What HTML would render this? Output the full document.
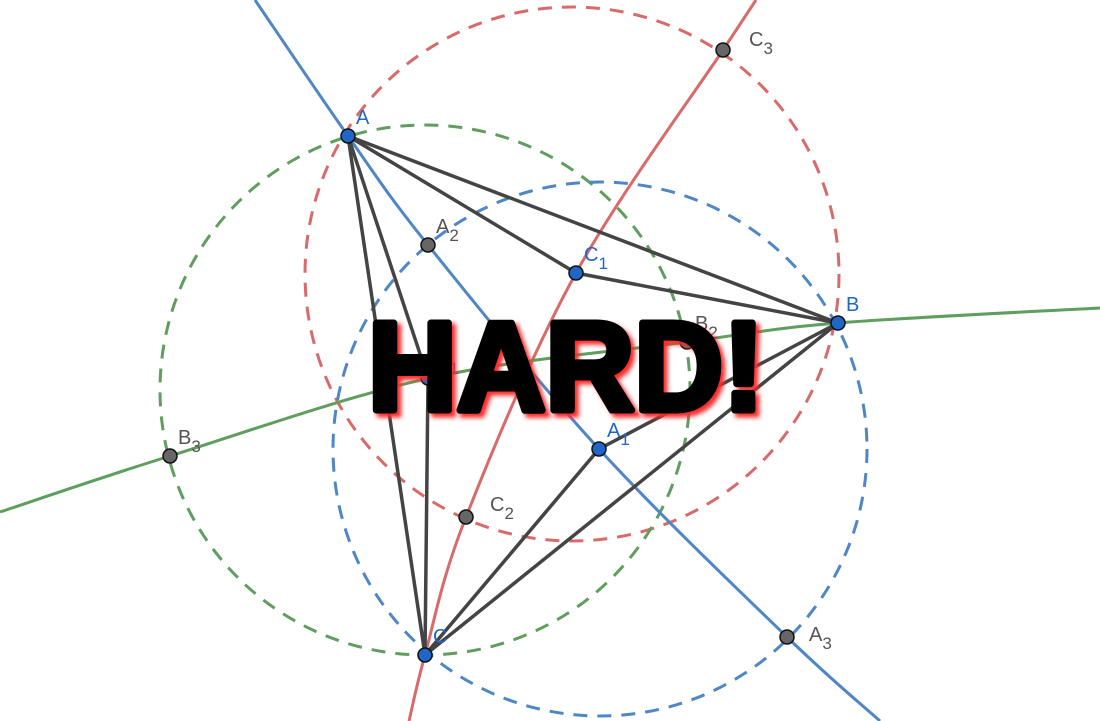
<!DOCTYPE html>
<html><head><meta charset="utf-8"><style>
html,body{margin:0;padding:0;background:#fff;width:1100px;height:721px;overflow:hidden}
svg{display:block}
.lbl{font-family:"Liberation Sans",sans-serif;font-size:20px}
</style></head><body>
<svg id="fig" width="1100" height="721" viewBox="0 0 1100 721" xmlns="http://www.w3.org/2000/svg">
<defs><filter id="blur" x="-10%" y="-10%" width="120%" height="120%"><feGaussianBlur stdDeviation="2"/></filter></defs>
<g id="circles"></g>
<g id="curves"></g>
<g id="segs"></g>
<g id="pts"></g>
<g>
<text x="566" y="410" text-anchor="middle" textLength="396" lengthAdjust="spacingAndGlyphs" font-family="'Liberation Sans',sans-serif" font-weight="bold" font-size="126" fill="#ff2a2a" stroke="#ff2a2a" stroke-width="7" filter="url(#blur)" transform="translate(4,4)">HARD!</text>
<text x="566" y="410" text-anchor="middle" textLength="396" lengthAdjust="spacingAndGlyphs" font-family="'Liberation Sans',sans-serif" font-weight="bold" font-size="126" fill="#000" stroke="#000" stroke-width="7" stroke-linejoin="round">HARD!</text>
</g>
</svg>
<script>
const NS="http://www.w3.org/2000/svg";
const circleCenters=[[572,274],[425,390],[600,449]];
const circleRadii=[267,265,267];
const circleColors=["#d96a6a","#5f9e5f","#4f86c6"];
const blueCurve=[[255,0],[348,136],[428,245],[599,449],[787,637],[880,721]];
const redCurve=[[409,721],[425,655],[466,517],[576,273],[723,50],[756,0]];
const greenCurve=[[0,512],[170,456],[430,378],[687,342],[838,323],[1100,308]];
const segments=[["A","B"],["A","C"],["A","C1"],["A","B1"],["B1","C"],["C","B"],["C","A1"],["A1","B"],["C1","B"]];
const pointNames=["A","B","C","A1","B1","C1","A2","B2","C2","A3","B3","C3"];
const pointXY={A:[348,136],B:[838,323],C:[425,655],A1:[599,449],B1:[428,378],C1:[576,273],A2:[428,245],B2:[687,342],C2:[466,517],A3:[787,637],B3:[170,456],C3:[723,50]};
const labelOffsets={C3:[26,-4],A3:[22,4],C2:[24,-6],B3:[8,-12]};
const blueSet=["A","B","C","A1","B1","C1"];
function mk(t,a,p){const e=document.createElementNS(NS,t);for(const k in a)e.setAttribute(k,a[k]);p.appendChild(e);return e;}
const gc=document.getElementById('circles');
circleCenters.forEach((c,i)=>{const e=mk('circle',{cx:c[0],cy:c[1],r:circleRadii[i],fill:'none',stroke:circleColors[i],'stroke-width':3,'stroke-dasharray':'14 10'},gc);

});
function smooth(p){let d='M'+p[0][0]+','+p[0][1];for(let i=0;i<p.length-1;i++){const p0=p[Math.max(i-1,0)],p1=p[i],p2=p[i+1],p3=p[Math.min(i+2,p.length-1)];
const c1=[p1[0]+(p2[0]-p0[0])/6,p1[1]+(p2[1]-p0[1])/6],c2=[p2[0]-(p3[0]-p1[0])/6,p2[1]-(p3[1]-p1[1])/6];d+=' C'+c1+' '+c2+' '+p2;}return d;}
const gcu=document.getElementById('curves');
[[blueCurve,'#4f86c6','blue-line'],[redCurve,'#d96a6a','red-curve'],[greenCurve,'#5f9e5f','green-curve']].forEach(a=>{const e=mk('path',{d:smooth(a[0]),fill:'none',stroke:a[1],'stroke-width':3},gcu);

});
const gs=document.getElementById('segs');
segments.forEach(s=>{const p=pointXY[s[0]],q=pointXY[s[1]];const e=mk('line',{x1:p[0],y1:p[1],x2:q[0],y2:q[1],stroke:'#444','stroke-width':3.5},gs);

});
const gp=document.getElementById('pts');
pointNames.forEach(n=>{const p=pointXY[n];const blue=blueSet.includes(n);
const e=mk('circle',{cx:p[0],cy:p[1],r:7,fill:blue?'#1f66c8':'#666',stroke:'#111','stroke-width':1.5},gp);


const o=labelOffsets[n]||[8,-12];
const t=mk('text',{x:p[0]+o[0],y:p[1]+o[1],class:'lbl',fill:blue?'#1f66c8':'#555'},gp);


t.textContent=n[0];
if(n.length>1){const s=mk('tspan',{dy:8,'font-size':17},t);s.textContent=n.slice(1);}});
</script>
</body></html>
